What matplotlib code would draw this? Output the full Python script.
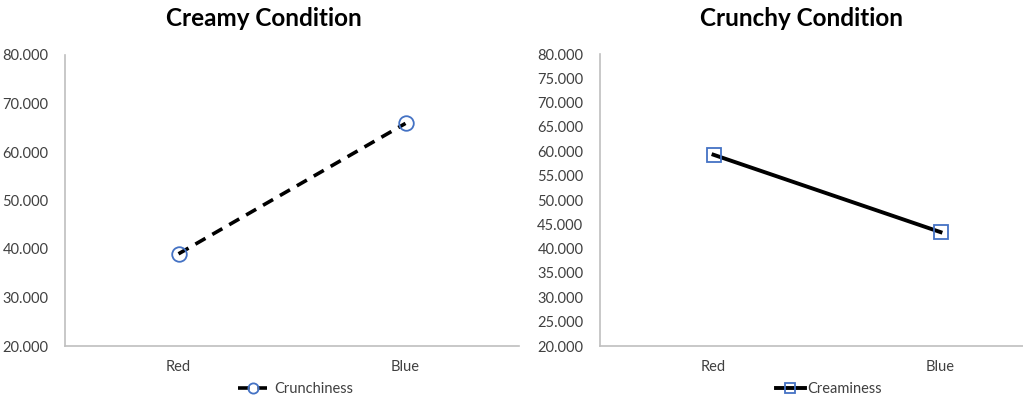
import matplotlib
matplotlib.use("Agg")
import matplotlib.pyplot as plt
from matplotlib.ticker import FormatStrFormatter, MultipleLocator

plt.rcParams['font.family'] = ['Lato', 'DejaVu Sans']

categories = ["Red", "Blue"]
crunchiness = [39.0, 65.9]
creaminess = [59.3, 43.4]

W, H = 1023, 398
fig = plt.figure(figsize=(W / 100, H / 100), dpi=100)

axis_grey = "#bfbfbf"
label_grey = "#404040"
marker_blue = "#4472c4"


def px_axes(left, top, right, bottom):
    return fig.add_axes([left / W, 1 - bottom / H, (right - left) / W, (bottom - top) / H])


def style(ax, step):
    ax.set_xlim(-0.5, 1.5)
    ax.set_ylim(20, 80)
    ax.set_xticks(range(len(categories)))
    ax.set_xticklabels(categories)
    ax.yaxis.set_major_locator(MultipleLocator(step))
    ax.yaxis.set_major_formatter(FormatStrFormatter('%.3f'))
    for s in ("top", "right"):
        ax.spines[s].set_visible(False)
    for s in ("left", "bottom"):
        ax.spines[s].set_color(axis_grey)
        ax.spines[s].set_linewidth(1.2)
    ax.tick_params(length=0, labelsize=10.5, labelcolor=label_grey, pad=10)
    ax.tick_params(axis='y', pad=12)


def legend_below(ax, x_px, textpad):
    ax.legend(loc="center", bbox_to_anchor=(x_px / W, 1 - 389 / H),
              bbox_transform=fig.transFigure, frameon=False, fontsize=10.5,
              labelcolor=label_grey, handlelength=2.0, handletextpad=textpad,
              borderpad=0, borderaxespad=0, markerscale=0.7)


ax1 = px_axes(65, 55, 519, 346)
style(ax1, 10)
ax1.plot(range(len(categories)), crunchiness, color="black", lw=2.6,
         ls=(0, (3.2, 2.2)), marker="o", ms=10.5, mfc="none", mec=marker_blue,
         mew=1.3, label="Crunchiness")
legend_below(ax1, 296, 0.5)

ax2 = px_axes(600, 54, 1054, 346)
style(ax2, 5)
ax2.plot(range(len(categories)), creaminess, color="black", lw=2.8,
         marker="s", ms=10.5, mfc="none", mec=marker_blue, mew=1.3,
         label="Creaminess")
legend_below(ax2, 829, 0.2)

fig.text(264 / W, 1 - 19 / H, "Creamy Condition", ha="center", va="center",
         fontsize=17.5, fontweight="bold", color="black")
fig.text(802 / W, 1 - 19 / H, "Crunchy Condition", ha="center", va="center",
         fontsize=17.5, fontweight="bold", color="black")

fig.savefig("out.png", dpi=100)
